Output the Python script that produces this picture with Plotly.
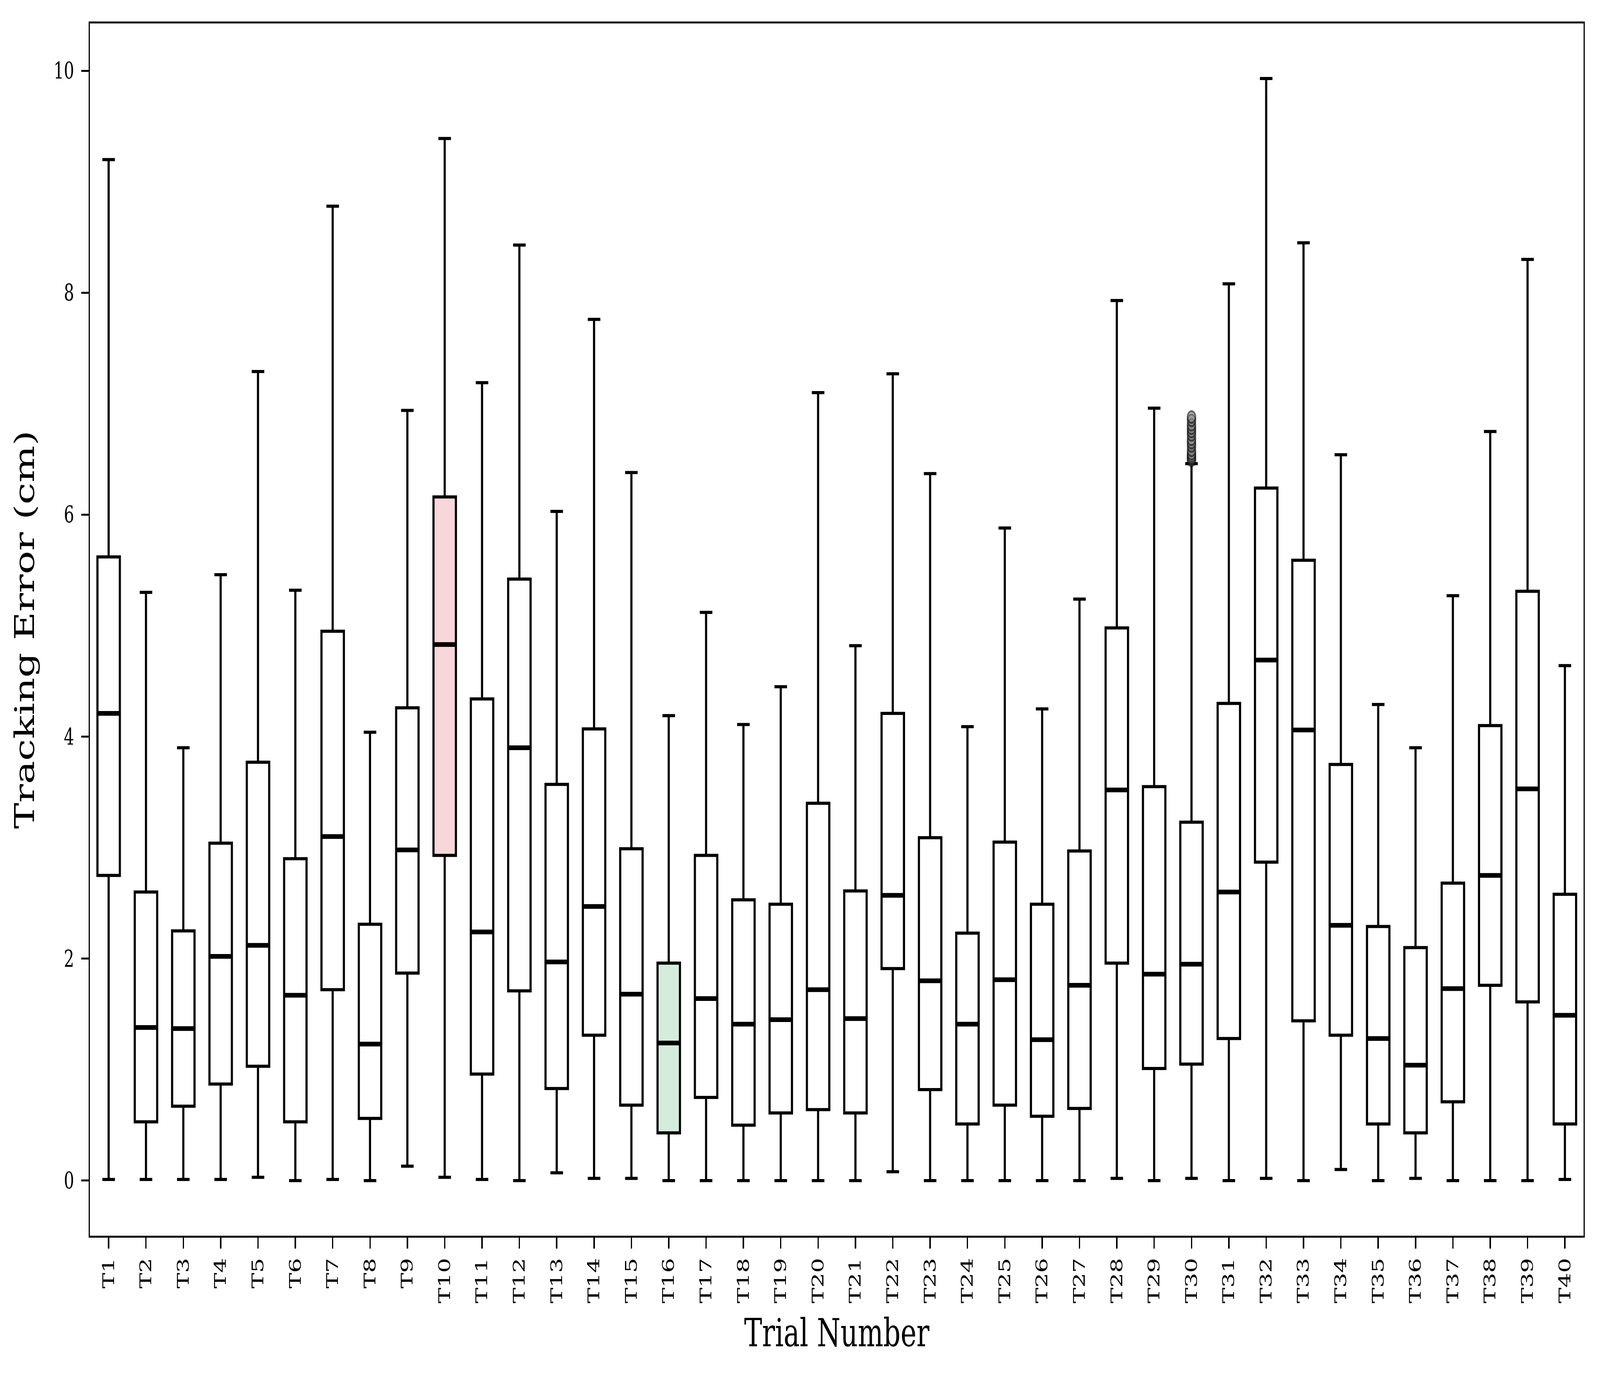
import plotly.graph_objects as go

# trial labels
trials = ["T{0}".format(i) for i in range(1, 41)]

# box statistics (cm)
lowerfence = [0.01, 0.01, 0.01, 0.01, 0.03, 0.00, 0.01, 0.00, 0.13, 0.03,
              0.01, 0.00, 0.07, 0.02, 0.02, 0.00, 0.00, 0.00, 0.00, 0.00,
              0.00, 0.08, 0.00, 0.00, 0.00, 0.00, 0.00, 0.02, 0.00, 0.02,
              0.00, 0.02, 0.00, 0.10, 0.00, 0.02, 0.00, 0.00, 0.00, 0.01]
q1 = [2.75, 0.53, 0.67, 0.87, 1.03, 0.53, 1.72, 0.56, 1.87, 2.93,
      0.96, 1.71, 0.83, 1.31, 0.68, 0.43, 0.75, 0.50, 0.61, 0.64,
      0.61, 1.91, 0.82, 0.51, 0.68, 0.58, 0.65, 1.96, 1.01, 1.05,
      1.28, 2.87, 1.44, 1.31, 0.51, 0.43, 0.71, 1.76, 1.61, 0.51]
median = [4.21, 1.38, 1.37, 2.02, 2.12, 1.67, 3.10, 1.23, 2.98, 4.83,
          2.24, 3.90, 1.97, 2.47, 1.68, 1.24, 1.64, 1.41, 1.45, 1.72,
          1.46, 2.57, 1.80, 1.41, 1.81, 1.27, 1.76, 3.52, 1.86, 1.95,
          2.60, 4.69, 4.06, 2.30, 1.28, 1.04, 1.73, 2.75, 3.53, 1.49]
q3 = [5.62, 2.60, 2.25, 3.04, 3.77, 2.90, 4.95, 2.31, 4.26, 6.16,
      4.34, 5.42, 3.57, 4.07, 2.99, 1.96, 2.93, 2.53, 2.49, 3.40,
      2.61, 4.21, 3.09, 2.23, 3.05, 2.49, 2.97, 4.98, 3.55, 3.23,
      4.30, 6.24, 5.59, 3.75, 2.29, 2.10, 2.68, 4.10, 5.31, 2.58]
upperfence = [9.20, 5.30, 3.90, 5.46, 7.29, 5.32, 8.78, 4.04, 6.94, 9.39,
              7.19, 8.43, 6.03, 7.76, 6.38, 4.19, 5.12, 4.11, 4.45, 7.10,
              4.82, 7.27, 6.37, 4.09, 5.88, 4.25, 5.24, 7.93, 6.96, 6.46,
              8.08, 9.93, 8.45, 6.54, 4.29, 3.90, 5.27, 6.75, 8.30, 4.64]

# outliers of T30
outlier_trial = "T30"
outliers = [6.49, 6.51, 6.53, 6.55, 6.58, 6.62, 6.65, 6.68, 6.72, 6.75,
            6.78, 6.81, 6.85, 6.88]

highlight = {"T10": "rgb(247,215,218)", "T16": "rgb(213,236,221)"}

W, H = 5940, 3540

fig = go.Figure()
for i, t in enumerate(trials):
    fig.add_trace(go.Box(
        x=[t], q1=[q1[i]], median=[median[i]], q3=[q3[i]],
        lowerfence=[lowerfence[i]], upperfence=[upperfence[i]],
        boxpoints=False,
        width=0.6,
        whiskerwidth=0.56,
        fillcolor=highlight.get(t, "white"),
        line=dict(color="black", width=8),
        showlegend=False,
        hoverinfo="skip",
    ))

# thicker median bars drawn on top
fig.add_trace(go.Scatter(
    x=trials, y=median, mode="markers",
    marker=dict(symbol="line-ew", size=57, color="black",
                line=dict(color="black", width=12)),
    showlegend=False, hoverinfo="skip",
))

fig.add_trace(go.Scatter(
    x=[outlier_trial] * len(outliers), y=outliers,
    mode="markers",
    marker=dict(symbol="circle", size=30, color="rgba(128,128,128,0.5)",
                line=dict(color="rgba(0,0,0,0.55)", width=5)),
    showlegend=False, hoverinfo="skip",
))

font_family = "DejaVu Serif"
fig.update_layout(
    width=W, height=H, autosize=False,
    margin=dict(l=334, r=61, t=60, b=377, pad=0),
    paper_bgcolor="white", plot_bgcolor="white",
    boxmode="overlay",
    font=dict(family=font_family, color="black", size=60),
    xaxis=dict(
        type="category", categoryorder="array", categoryarray=trials,
        range=[-0.5, 39.5],
        showline=True, mirror=True, linecolor="black", linewidth=4.5,
        ticks="outside", ticklen=28, tickwidth=4.5, tickcolor="black",
        tickangle=-90, tickfont=dict(family=font_family, size=60),
        ticklabelstandoff=0,
        showgrid=False, zeroline=False,
        title=dict(text="Trial Number", font=dict(family=font_family, size=100),
                   standoff=42),
    ),
    yaxis=dict(
        range=[-0.4965, 10.4265],
        tickvals=[0, 2, 4, 6, 8, 10],
        showline=True, mirror=True, linecolor="black", linewidth=4.5,
        ticks="outside", ticklen=28, tickwidth=4.5, tickcolor="black",
        tickfont=dict(family=font_family, size=60),
        ticklabelstandoff=14,
        showgrid=False, zeroline=False,
        title=dict(text="Tracking Error (cm)", font=dict(family=font_family, size=100),
                   standoff=40),
    ),
)

# stretch the 5940x3540 figure onto whatever window the page gets
fit_js = """
var gd = document.getElementById('{plot_id}');
document.documentElement.style.overflow = 'hidden';
document.body.style.margin = '0';
document.body.style.overflow = 'hidden';
var sx = window.innerWidth / %d, sy = window.innerHeight / %d;
gd.style.transformOrigin = '0 0';
gd.style.transform = 'scale(' + sx + ',' + sy + ')';
""" % (W, H)

fig.write_html("out.html", config={"displayModeBar": False}, post_script=fit_js)
